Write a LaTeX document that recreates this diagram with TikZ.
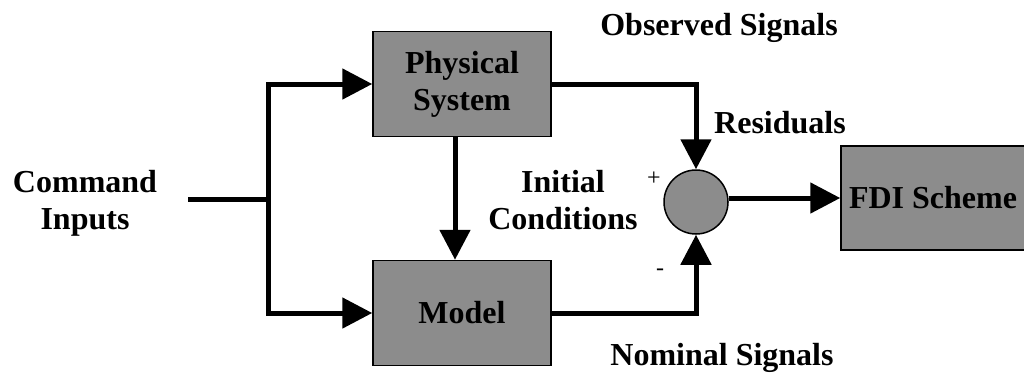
\documentclass[tikz,border=0pt]{standalone}
\usepackage{fontspec}
\setmainfont{Liberation Serif}
\usetikzlibrary{arrows.meta}
\tikzset{
  block/.style={draw, line width=1.5pt, fill=black!45, minimum width=178pt, minimum height=105pt, align=center, font=\fontsize{32}{37}\selectfont\bfseries},
  sumnode/.style={draw, circle, line width=1.5pt, fill=black!45, minimum size=64pt, inner sep=0pt},
  lbl/.style={align=center, font=\fontsize{32}{37}\selectfont\bfseries},
  sgn/.style={font=\fontsize{24}{24}\selectfont},
  sig/.style={line width=5pt, -{Triangle[length=30pt,width=30pt]}},
}
\begin{document}
\begin{tikzpicture}[x=1pt,y=-1pt]
\useasboundingbox (0,0) rectangle (1024,376);
\node[block] (phys) at (462,84) {Physical\\System};
\node[block] (model) at (462,313) {Model};
\node[block, minimum width=184pt, minimum height=104pt] (fdi) at (933,198) {FDI Scheme};
\node[sumnode] (sum) at (696,202) {};
\node[lbl] (cmd) at (85,203) {Command\\Inputs};
\coordinate (in) at (188,199);
\coordinate (split) at (268,199);

\path[draw,line width=5pt] (in) -- (split);
\path[draw,sig] (split) |- (phys.west);
\path[draw,sig] (split) |- (model.west);
\path[draw,sig] (phys.south -| 455,0) -- (model.north -| 455,0);
\path[draw,sig] (phys.east) -| (sum.north);
\path[draw,sig] (model.east) -| (sum.south);
\path[draw,sig] (sum.east |- fdi.west) -- (fdi.west);

\node[lbl] (obs) at (719,28) {Observed Signals};
\node[lbl] (res) at (780,123) {Residuals};
\node[lbl] (init) at (563,200) {Initial\\Conditions};
\node[lbl] (nom) at (722,358) {Nominal Signals};
\node[sgn] (plus) at (654,179) {+};
\node[sgn] (minus) at (660,272) {-};
\end{tikzpicture}
\end{document}
